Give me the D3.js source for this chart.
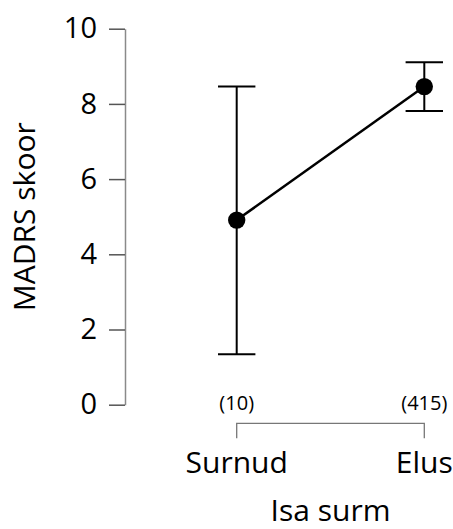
<!DOCTYPE html>
<html>
<head>
<meta charset="utf-8">
<script src="https://cdn.jsdelivr.net/npm/d3@7"></script>
<style>
  html, body { margin: 0; padding: 0; background: #fff; }
  svg text { font-family: "Open Sans", "Noto Sans", sans-serif; fill: #000; }
</style>
</head>
<body>
<svg id="chart" width="453" height="529"></svg>
<script>
// Descriptive plot: mean MADRS score with 95% CI by father's death
const categories = ["Surnud", "Elus"];
const means = [4.91, 8.46];
const lower = [1.34, 7.81];
const upper = [8.46, 9.11];
const counts = ["(10)", "(415)"];
const yTicks = [0, 2, 4, 6, 8, 10];
const xTitle = "Isa surm";
const yTitle = "MADRS skoor";

const svg = d3.select("#chart");

const x = d3.scalePoint().domain(categories).range([236.7, 424.3]);
const y = d3.scaleLinear().domain([0, 10]).range([404.7, 28.7]);

const data = categories.map((c, i) => ({
  cat: c, mean: means[i], lo: lower[i], hi: upper[i], n: counts[i]
}));

// y axis
const yAxis = d3.axisLeft(y).tickValues(yTicks).tickSize(16).tickSizeOuter(0).tickPadding(12);
const gy = svg.append("g").attr("transform", "translate(125,0)").call(yAxis);
gy.select(".domain").attr("stroke", "#8a8a8a").attr("stroke-width", 1.5);
gy.selectAll(".tick line").attr("stroke", "#555").attr("stroke-width", 1.5);
gy.selectAll(".tick text")
  .attr("font-size", 29).attr("fill", "#000")
  .attr("font-family", "Open Sans, Noto Sans, sans-serif");

// x bracket (axis line between the categories)
const bracketY = 423.3;
const [x0, x1] = x.range();
svg.append("path")
  .attr("d", `M${x0},${bracketY + 15}V${bracketY}H${x1}V${bracketY + 15}`)
  .attr("fill", "none").attr("stroke", "#777").attr("stroke-width", 1.3);

// group sizes
svg.selectAll(".count").data(data).enter().append("text")
  .attr("class", "count")
  .attr("x", d => x(d.cat)).attr("y", 410)
  .attr("text-anchor", "middle").attr("font-size", 20)
  .text(d => d.n);

// category labels
svg.selectAll(".cat").data(data).enter().append("text")
  .attr("class", "cat")
  .attr("x", d => x(d.cat)).attr("y", 472.5)
  .attr("text-anchor", "middle").attr("font-size", 30)
  .text(d => d.cat);

// axis titles
svg.append("text")
  .attr("x", (x0 + x1) / 2).attr("y", 521)
  .attr("text-anchor", "middle").attr("font-size", 30)
  .text(xTitle);

svg.append("text")
  .attr("transform", `translate(35,${(y(0) + y(10)) / 2 + 0}) rotate(-90)`)
  .attr("text-anchor", "middle").attr("font-size", 30)
  .text(yTitle);

// error bars
const capHalf = 18.7;
const eb = svg.selectAll(".eb").data(data).enter().append("g").attr("class", "eb")
  .attr("stroke", "#000").attr("stroke-width", 2);
eb.append("line")
  .attr("x1", d => x(d.cat)).attr("x2", d => x(d.cat))
  .attr("y1", d => y(d.lo)).attr("y2", d => y(d.hi));
eb.append("line")
  .attr("x1", d => x(d.cat) - capHalf).attr("x2", d => x(d.cat) + capHalf)
  .attr("y1", d => y(d.hi)).attr("y2", d => y(d.hi));
eb.append("line")
  .attr("x1", d => x(d.cat) - capHalf).attr("x2", d => x(d.cat) + capHalf)
  .attr("y1", d => y(d.lo)).attr("y2", d => y(d.lo));

// connecting line
svg.append("path")
  .datum(data)
  .attr("fill", "none").attr("stroke", "#000").attr("stroke-width", 2.5)
  .attr("d", d3.line().x(d => x(d.cat)).y(d => y(d.mean)));

// means
svg.selectAll(".pt").data(data).enter().append("circle")
  .attr("class", "pt")
  .attr("cx", d => x(d.cat)).attr("cy", d => y(d.mean))
  .attr("r", 8.7).attr("fill", "#000");
</script>
</body>
</html>
